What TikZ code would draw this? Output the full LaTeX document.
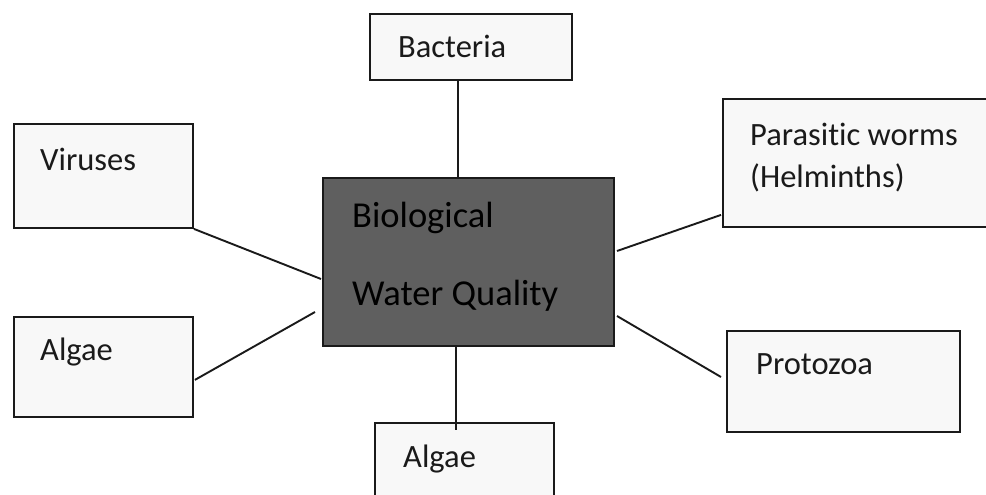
\documentclass[tikz,border=0pt]{standalone}
\usepackage{fontspec}
\setmainfont[Ligatures={NoCommon}]{Carlito}
\definecolor{boxfill}{HTML}{F8F8F8}
\definecolor{corefill}{HTML}{5F5F5F}
\definecolor{ink}{HTML}{1A1A1A}
\tikzset{
  cat/.style={draw=ink, line width=1.9pt, fill=boxfill, rectangle, inner sep=0pt, anchor=north west},
  core/.style={draw=ink, line width=2pt, fill=corefill, rectangle, inner sep=0pt, anchor=north west},
  lbl/.style={anchor=base west, inner sep=0pt, text=ink, font=\fontsize{32.5}{39}\selectfont},
  corelbl/.style={anchor=base west, inner sep=0pt, text=black, font=\fontsize{36.5}{44}\selectfont},
  link/.style={draw=ink, line width=1.9pt}
}
\begin{document}
\begin{tikzpicture}[x=1pt, y=-1pt]
  \useasboundingbox (0,0) rectangle (986,495);
  \clip (0,0) rectangle (986,495);
  \fill[white] (0,0) rectangle (986,495);

  % central box
  \node[core, minimum width=291pt, minimum height=168pt] (bio) at (322,177) {};

  % surrounding category boxes
  \node[cat, minimum width=202pt, minimum height=66pt]  (bact) at (369,13) {};
  \node[cat, minimum width=179pt, minimum height=104pt] (vir)  at (13,123) {};
  \node[cat, minimum width=179pt, minimum height=100pt] (algL) at (13,316) {};
  \node[cat, minimum width=275pt, minimum height=128pt] (par)  at (722,98) {};
  \node[cat, minimum width=233pt, minimum height=101pt] (pro)  at (726,330) {};
  \node[cat, minimum width=179pt, minimum height=85pt]  (algB) at (374,422) {};

  % connectors
  \draw[link] ([xshift=89pt]bact.south west) -- ([xshift=136pt]bio.north west);
  \draw[link] (vir.south east) -- ([xshift=-1pt,yshift=-102pt]bio.north west);
  \draw[link] ([xshift=1pt,yshift=38pt]algL.south east) -- ([xshift=-7pt,yshift=-135pt]bio.north west);
  \draw[link] ([xshift=2pt,yshift=-74pt]bio.north east) -- ([xshift=-1pt,yshift=13pt]par.south west);
  \draw[link] ([xshift=2pt,yshift=-139pt]bio.north east) -- ([xshift=-5pt,yshift=-47pt]pro.north west);
  \draw[link] ([xshift=134pt]bio.south west) -- ([xshift=82pt,yshift=-8pt]algB.north west);

  % labels
  \node[corelbl] (tBio)  at (352,227) {Biological};
  \node[corelbl] (tWQ)   at (352,305) {Water Quality};
  \node[lbl] (tBact) at (398,58)  {Bacteria};
  \node[lbl] (tVir)  at (40,170)  {Viruses};
  \node[lbl] (tAlgL) at (40,360)  {Algae};
  \node[lbl] (tPar1) at (750,145) {Parasitic worms};
  \node[lbl] (tPar2) at (750,187) {(Helminths)};
  \node[lbl] (tPro)  at (756,374) {Protozoa};
  \node[lbl] (tAlgB) at (403,467) {Algae};
\end{tikzpicture}
\end{document}
